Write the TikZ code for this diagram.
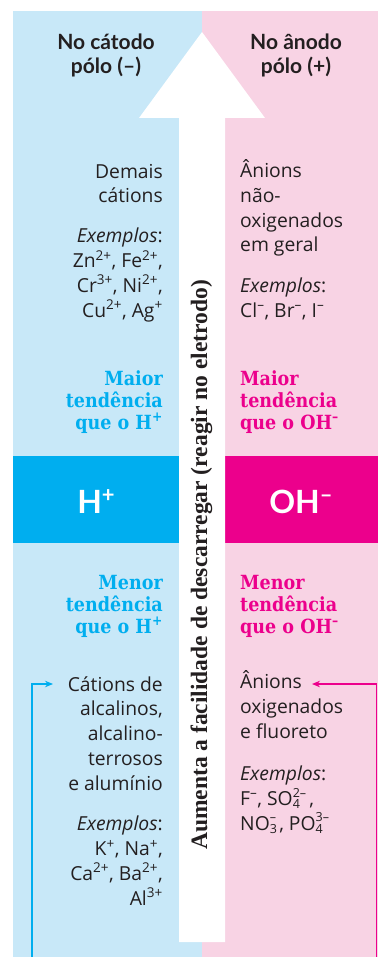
\documentclass[tikz,border=0pt]{standalone}
\usepackage{fontspec}
\setmainfont{Open Sans}
\newfontfamily\lato{Lato}
\newfontfamily\clar[FakeStretch=0.9]{DejaVu Serif}
\newfontfamily\tms{Liberation Serif}
\usetikzlibrary{arrows.meta}
\definecolor{cy}{HTML}{00AEEF}
\definecolor{mg}{HTML}{EC008C}
\definecolor{lb}{HTML}{C8E8F8}
\definecolor{lp}{HTML}{F8D3E4}
\definecolor{txt}{HTML}{231F20}
\newcommand\supx[1]{\textsuperscript{#1}}
\newcommand\bigsup[1]{\raisebox{11pt}{\fontsize{22}{22}\selectfont #1}}
\newcommand\ssx[2]{\makebox[0pt][l]{\raisebox{-0.35ex}{\fontsize{12.5}{12.5}\selectfont #1}}\raisebox{0.8ex}{\fontsize{12.5}{12.5}\selectfont #2}}
\tikzset{
  body/.style={font=\fontsize{19.3}{24.7}\selectfont, text=txt, inner sep=0pt},
  lft/.style={body, align=right, anchor=base east},
  rgt/.style={body, align=left, anchor=base west},
  tend/.style={font=\clar\bfseries\fontsize{19.5}{22}\selectfont, inner sep=0pt},
  head/.style={font=\lato\bfseries\fontsize{21}{24}\selectfont, text=txt, align=center, anchor=base, inner sep=0pt},
  ion/.style={font=\lato\bfseries\fontsize{32}{32}\selectfont, text=white, anchor=base, inner sep=0pt},
  conn/.style={line width=1.2pt, -{Stealth[length=8pt,width=6.5pt]}}
}
\begin{document}
\begin{tikzpicture}[x=1pt,y=-1pt]
\useasboundingbox (0,0) rectangle (378,957);
% backgrounds
\fill[lb] (13,11) rectangle (202,957);
\fill[lp] (202,11) rectangle (378,957);
\fill[cy] (13,456) rectangle (179,543);
\fill[mg] (225,456) rectangle (378,543);
% big arrow
\fill[white] (179,942) -- (179,118) -- (139,118) -- (202,32) -- (265,118) -- (225,118) -- (225,942) -- cycle;
% headers (anchored at last line baseline)
\node[head] (hl) at (106,74) {No cátodo\\pólo (–)};
\node[head] (hr) at (296,74) {No ânodo\\pólo (+)};
% left column
\node[lft] (l1) at (163,203) {Demais\\cátions};
\node[lft] (l2) at (163,317) {\textit{Exemplos}:\\Zn\supx{2+}, Fe\supx{2+},\\Cr\supx{3+}, Ni\supx{2+},\\Cu\supx{2+}, Ag\supx{+}};
\node[tend, text=cy, align=right, anchor=base east] (l3) at (163,429) {Maior\\tendência\\que o H\supx{+}};
\node[ion] (hp) at (96,513) {H\bigsup{+}};
\node[tend, text=cy, align=right, anchor=base east] (l4) at (163,633) {Menor\\tendência\\que o H\supx{+}};
\node[lft] (l5) at (163,790) {Cátions de\\alcalinos,\\alcalino-\\terrosos\\e alumínio};
\node[lft] (l6) at (163,905) {\textit{Exemplos}:\\K\supx{+}, Na\supx{+},\\Ca\supx{2+}, Ba\supx{2+},\\Al\supx{3+}};
% right column
\node[rgt] (r1) at (240,252) {Ânions\\não-\\oxigenados\\em geral};
\node[rgt] (r2) at (240,317) {\textit{Exemplos}:\\Cl\supx{–}, Br\supx{–}, I\supx{–}};
\node[tend, text=mg, align=left, anchor=base west] (r3) at (240,429) {Maior\\tendência\\que o OH\supx{–}};
\node[ion] (ohm) at (301,513) {OH\bigsup{–}};
\node[tend, text=mg, align=left, anchor=base west] (r4) at (240,633) {Menor\\tendência\\que o OH\supx{–}};
\node[rgt] (r5) at (240,738) {Ânions\\oxigenados\\e fluoreto};
\node[rgt] (r6) at (240,830) {\textit{Exemplos}:\\F\supx{–}, SO\ssx{4}{2–}\,,\\NO\ssx{3}{–}\,, PO\ssx{4}{3–}};
% rotated label
\node[font=\tms\bfseries\fontsize{23.5}{23.5}\selectfont, text=txt, rotate=90, anchor=base, inner sep=0pt] (rot) at (207,565) {Aumenta a facilidade de descarregar (reagir no eletrodo)};
% connectors
\coordinate (lbot) at (32,957);
\coordinate (ltip) at (53,684);
\coordinate (rbot) at (376.5,957);
\coordinate (rtip) at (312,684);
\draw[conn, cy] (lbot) |- (ltip);
\draw[conn, mg] (rbot) |- (rtip);
\end{tikzpicture}
\end{document}
